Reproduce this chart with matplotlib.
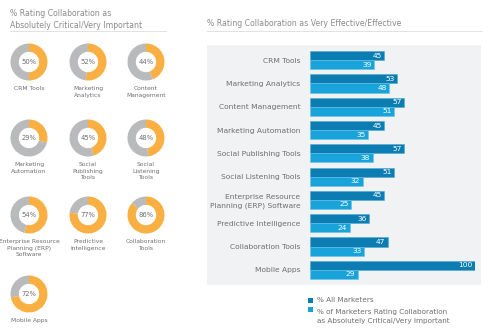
import matplotlib
matplotlib.use("Agg")
import matplotlib.pyplot as plt
from matplotlib.patches import Rectangle
from matplotlib.lines import Line2D

# ---------------- data ----------------
donut_labels = ["CRM Tools", "Marketing\nAnalytics", "Content\nManagement",
                "Marketing\nAutomation", "Social\nPublishing\nTools", "Social\nListening\nTools",
                "Enterprise Resource\nPlanning (ERP)\nSoftware", "Predictive\nIntelligence", "Collaboration\nTools",
                "Mobile Apps"]
donut_values = [50, 52, 44, 29, 45, 48, 54, 77, 86, 72]

bar_categories = ["CRM Tools", "Marketing Analytics", "Content Management",
                  "Marketing Automation", "Social Publishing Tools", "Social Listening Tools",
                  "Enterprise Resource\nPlanning (ERP) Software", "Predictive Intelligence",
                  "Collaboration Tools", "Mobile Apps"]
all_marketers = [45, 53, 57, 45, 57, 51, 45, 36, 47, 100]
critical_marketers = [39, 48, 51, 35, 38, 32, 25, 24, 33, 29]

left_title = "% Rating Collaboration as\nAbsolutely Critical/Very Important"
right_title = "% Rating Collaboration as Very Effective/Effective"
legend_labels = ["% All Marketers",
                 "% of Marketers Rating Collaboration\nas Absolutely Critical/Very Important"]

# ---------------- style ----------------
ORANGE = "#F9AF42"
GRAY = "#B9BABC"
DARK = "#0B7DB3"
LIGHT = "#18A3DB"
PANEL = "#F1F2F3"
TXT = "#6E6E6E"
TITLE = "#8A8A8A"
plt.rcParams['font.family'] = ['DejaVu Sans']

W, H = 490, 336
fig = plt.figure(figsize=(W / 100, H / 100), dpi=100)
fig.patch.set_facecolor("white")

def fx(x):
    return x / W

def fy(y):
    return 1 - y / H

# titles & underlines
fig.text(fx(10), fy(9), left_title, fontsize=5.6, color=TITLE, va="top", ha="left",
         linespacing=1.45)
fig.text(fx(207), fy(23), right_title, fontsize=5.6, color=TITLE, va="center", ha="left")
fig.add_artist(Line2D([fx(10), fx(166)], [fy(31), fy(31)], color="#DDDDDD", lw=0.6))
fig.add_artist(Line2D([fx(207), fx(482)], [fy(31), fy(31)], color="#DDDDDD", lw=0.6))

# ---------------- donuts ----------------
col_x = [29, 88, 146]
row_y = [62, 138, 215, 294]
R = 18.5
for i, (lab, v) in enumerate(zip(donut_labels, donut_values)):
    cx = col_x[i % 3]
    cy = row_y[i // 3]
    ax = fig.add_axes([fx(cx - R), fy(cy + R), 2 * R / W, 2 * R / H])
    ax.pie([v, 100 - v], colors=[ORANGE, GRAY], startangle=90, counterclock=False,
           radius=1, wedgeprops=dict(width=0.45, linewidth=0))
    ax.set_xlim(-1, 1)
    ax.set_ylim(-1, 1)
    ax.set_aspect("equal")
    ax.axis("off")
    ax.text(0, 0, f"{v}%", ha="center", va="center", fontsize=4.9, color=TXT)
    fig.text(fx(cx), fy(cy + 24), lab, ha="center", va="top", fontsize=4.3,
             color=TXT, linespacing=1.4)

# ---------------- bar panel ----------------
fig.add_artist(Rectangle((fx(207), fy(285)), (481 - 207) / W, (285 - 45) / H,
                         transform=fig.transFigure, facecolor=PANEL, edgecolor="none",
                         zorder=0))
bx0, bx1 = 310, 475
bax = fig.add_axes([fx(bx0), fy(285), (bx1 - bx0) / W, (285 - 45) / H])
bax.patch.set_alpha(0)
n = len(bar_categories)
pos = list(range(n))
h = 0.39
bax.barh([p - h / 2 for p in pos], all_marketers, height=h, color=DARK,
         edgecolor="#4FA9D3", linewidth=0.4)
bax.barh([p + h / 2 for p in pos], critical_marketers, height=h, color=LIGHT,
         edgecolor="#6CC2E8", linewidth=0.4)
for p, a, c in zip(pos, all_marketers, critical_marketers):
    bax.text(a - 1.5, p - h / 2, str(a), ha="right", va="center", fontsize=5.4,
             color="white")
    bax.text(c - 1.5, p + h / 2, str(c), ha="right", va="center", fontsize=5.4,
             color="white")
bax.set_xlim(0, 100)
bax.set_ylim(n - 0.35, -0.65)
bax.set_yticks(pos)
bax.set_yticklabels(bar_categories, fontsize=5.4, color=TXT, linespacing=1.35)
bax.tick_params(axis="y", length=0, pad=7)
bax.set_xticks([])
for s in bax.spines.values():
    s.set_visible(False)

# legend
for j, (lab, col) in enumerate(zip(legend_labels, [DARK, LIGHT])):
    yy = 300 + j * 9
    fig.add_artist(Rectangle((fx(308), fy(yy + 2.5)), 5 / W, 5 / H,
                             transform=fig.transFigure, facecolor=col, edgecolor="none"))
    fig.text(fx(317), fy(yy), lab, ha="left", va="top" if j else "center",
             fontsize=5.2, color=TXT, linespacing=1.5)

fig.savefig("out.png", dpi=100)
